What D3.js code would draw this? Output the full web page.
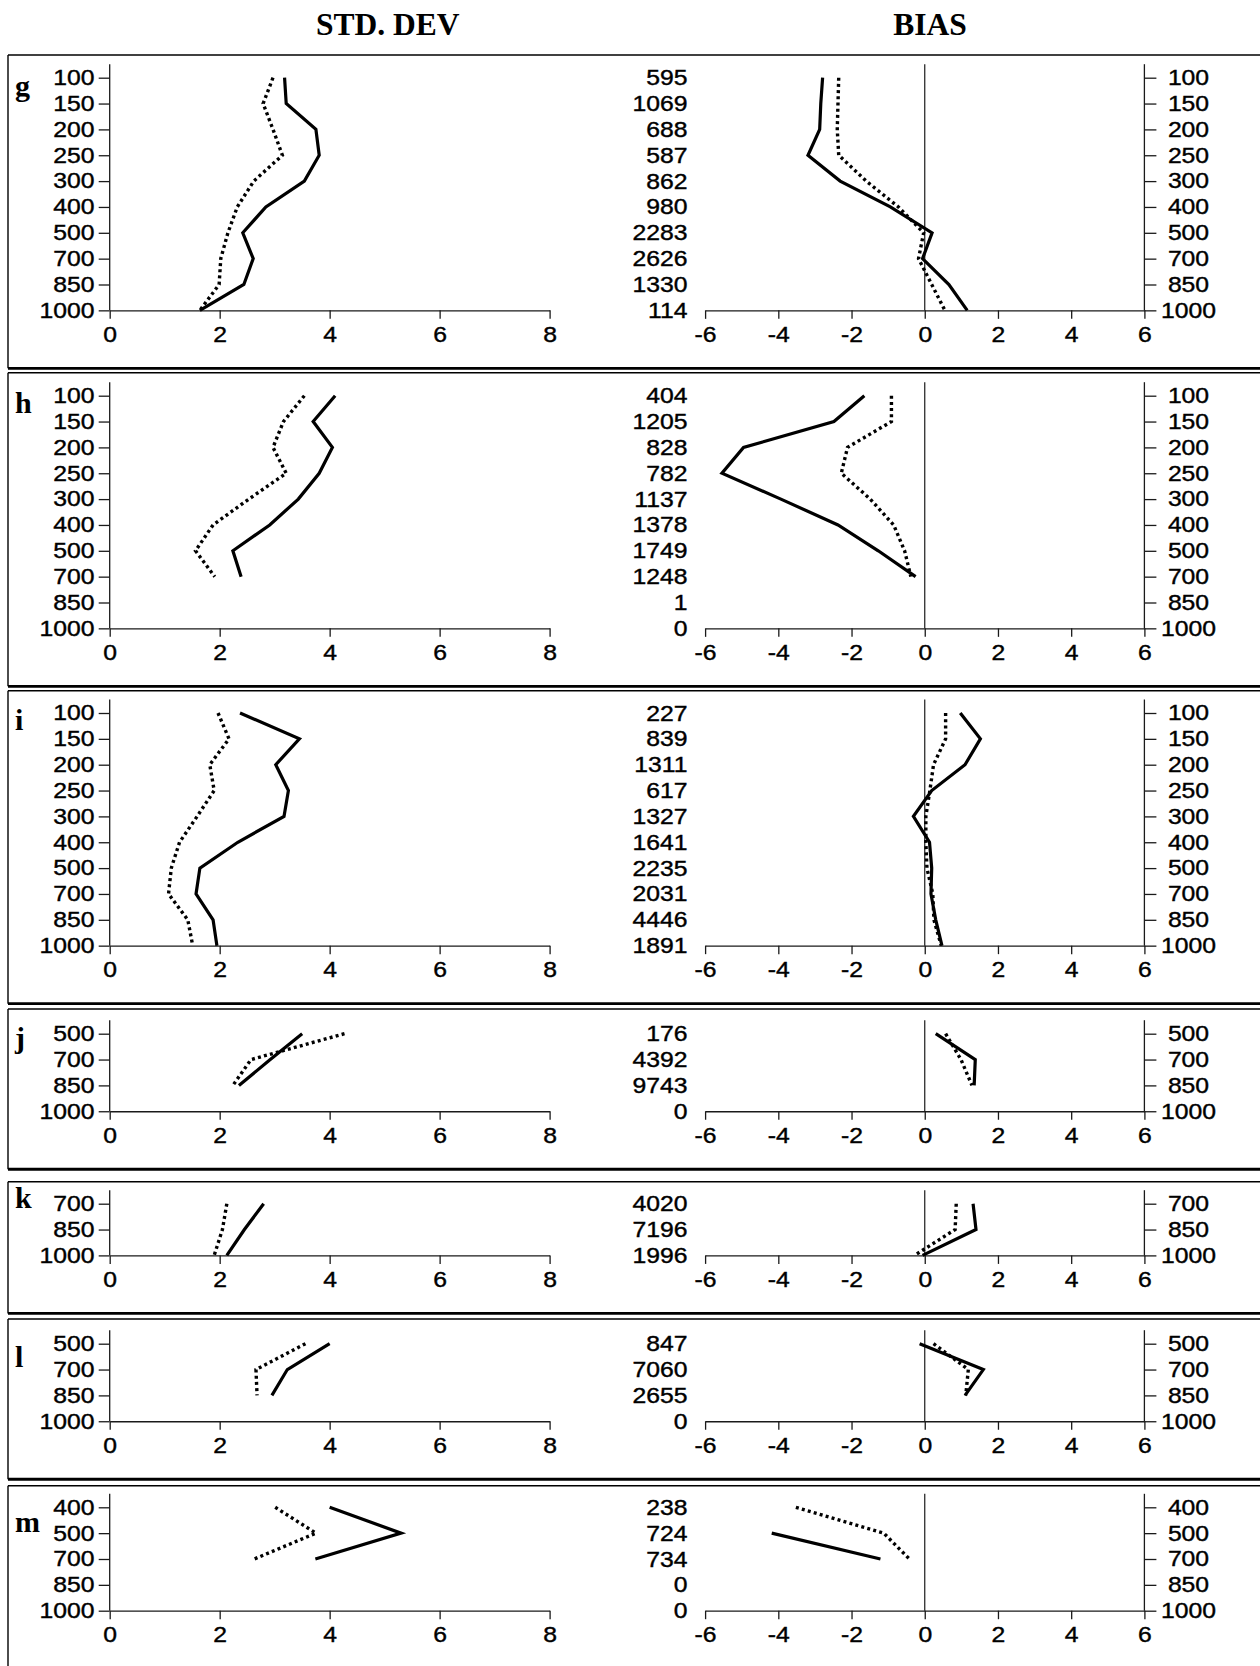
<!DOCTYPE html>
<html>
<head>
<meta charset="utf-8">
<script src="https://cdn.jsdelivr.net/npm/d3@7"></script>
<style>
  html, body { margin: 0; padding: 0; background: #fff; }
  svg { display: block; }
  .num { font-family: "Liberation Sans", Arimo, Arial, Helvetica, sans-serif; font-size: 21.5px; fill: #000; stroke: #000; stroke-width: 0.4px; }
  .serif { font-family: "Liberation Serif", "Times New Roman", Times, serif; font-weight: bold; fill: #000; }
</style>
</head>
<body>
<svg id="chart" width="1260" height="1666"></svg>
<script>
// ---- data: pressure levels (hPa), observation counts, std. dev. and bias profiles ----
const levelsFull = [100, 150, 200, 250, 300, 400, 500, 700, 850, 1000];
const levelsLow  = [500, 700, 850, 1000];
const levelsK    = [700, 850, 1000];
const levelsM    = [400, 500, 700, 850, 1000];

const panelNames = ["g", "h", "i", "j", "k", "l", "m"];

const countsG = [595, 1069, 688, 587, 862, 980, 2283, 2626, 1330, 114];
const stdSolidG   = [3.18, 3.21, 3.75, 3.81, 3.54, 2.84, 2.42, 2.61, 2.44, 1.64];
const stdDottedG  = [2.97, 2.79, 2.97, 3.14, 2.62, 2.32, 2.15, 2.02, 1.99, 1.64];
const biasSolidG  = [-2.79, -2.84, -2.87, -3.19, -2.31, -0.94, 0.20, -0.06, 0.66, 1.16];
const biasDottedG = [-2.35, -2.37, -2.39, -2.35, -1.60, -0.72, -0.03, -0.17, 0.19, 0.55];

const countsH = [404, 1205, 828, 782, 1137, 1378, 1749, 1248, 1, 0];
const stdSolidH   = [4.10, 3.70, 4.05, 3.81, 3.43, 2.91, 2.24, 2.39, null, null];
const stdDottedH  = [3.54, 3.16, 2.97, 3.21, 2.53, 1.88, 1.56, 1.91, null, null];
const biasSolidH  = [-1.65, -2.48, -4.95, -5.54, -3.93, -2.37, -1.27, -0.25, null, null];
const biasDottedH = [-0.91, -0.91, -2.11, -2.28, -1.49, -0.85, -0.55, -0.38, null, null];

const countsI = [227, 839, 1311, 617, 1327, 1641, 2235, 2031, 4446, 1891];
const stdSolidI   = [2.37, 3.45, 3.02, 3.25, 3.17, 2.33, 1.64, 1.57, 1.88, 1.95];
const stdDottedI  = [1.97, 2.17, 1.82, 1.90, 1.59, 1.27, 1.12, 1.07, 1.42, 1.51];
const biasSolidI  = [0.97, 1.52, 1.10, 0.19, -0.31, 0.13, 0.19, 0.17, 0.30, 0.47];
const biasDottedI = [0.57, 0.57, 0.24, 0.14, 0.03, 0.03, 0.06, 0.22, 0.25, 0.45];

const countsJ = [176, 4392, 9743, 0];
const stdSolidJ   = [3.50, 2.92, 2.35, null];
const stdDottedJ  = [4.27, 2.57, 2.24, null];
const biasSolidJ  = [0.30, 1.38, 1.35, null];
const biasDottedJ = [0.57, 0.99, 1.29, null];

const countsK = [4020, 7196, 1996];
const stdSolidK   = [2.80, 2.45, 2.13];
const stdDottedK  = [2.13, 2.05, 1.90];
const biasSolidK  = [1.32, 1.40, -0.06];
const biasDottedK = [0.86, 0.83, -0.28];

const countsL = [847, 7060, 2655, 0];
const stdSolidL   = [4.00, 3.23, 2.95, null];
const stdDottedL  = [3.56, 2.66, 2.68, null];
const biasSolidL  = [-0.14, 1.60, 1.10, null];
const biasDottedL = [0.24, 1.19, 1.12, null];

const countsM = [238, 724, 734, 0, 0];
const stdSolidM   = [4.00, 5.30, 3.74, null, null];
const stdDottedM  = [3.01, 3.75, 2.63, null, null];
const biasSolidM  = [null, -4.18, -1.21, null, null];
const biasDottedM = [-3.52, -1.12, -0.42, null, null];

const stdTicks  = [0, 2, 4, 6, 8];
const biasTicks = [-6, -4, -2, 0, 2, 4, 6];

const panels = [
  { levels: levelsFull, counts: countsG, std: [stdSolidG, stdDottedG], bias: [biasSolidG, biasDottedG] },
  { levels: levelsFull, counts: countsH, std: [stdSolidH, stdDottedH], bias: [biasSolidH, biasDottedH] },
  { levels: levelsFull, counts: countsI, std: [stdSolidI, stdDottedI], bias: [biasSolidI, biasDottedI] },
  { levels: levelsLow,  counts: countsJ, std: [stdSolidJ, stdDottedJ], bias: [biasSolidJ, biasDottedJ] },
  { levels: levelsK,    counts: countsK, std: [stdSolidK, stdDottedK], bias: [biasSolidK, biasDottedK] },
  { levels: levelsLow,  counts: countsL, std: [stdSolidL, stdDottedL], bias: [biasSolidL, biasDottedL] },
  { levels: levelsM,    counts: countsM, std: [stdSolidM, stdDottedM], bias: [biasSolidM, biasDottedM] }
];

// ---- layout ----
const frameTop     = [55, 372.7, 690.7, 1009, 1181.7, 1319, 1485.7];
const firstLevelDy = [22.7, 23, 22.3, 24.7, 22, 24.7, 21.6];
const letterDy     = [18, 17.6, 17, 14.5, 4.6, 23, 24.4];
const STEP = 25.85;
const SX = 1.15;    // wide setting of the tick digits
const INK = "#1a1a1a";

const xStd  = d3.scaleLinear().domain([0, 8]).range([109.7, 549.6]);
const xBias = d3.scaleLinear().domain([-6, 6]).range([705.1, 1144.4]);
const countsRight = 687.5;

const svg = d3.select("#chart");

// column headings
svg.append("text").attr("class", "serif").attr("x", 387.7).attr("y", 35)
  .attr("text-anchor", "middle").attr("font-size", 31.5).text("STD. DEV");
svg.append("text").attr("class", "serif").attr("x", 930).attr("y", 35)
  .attr("text-anchor", "middle").attr("font-size", 31.5).text("BIAS");

function label(g, x, y, txt, anchor) {
  g.append("text")
    .attr("class", "num")
    .attr("transform", `translate(${x},${y}) scale(${SX},1)`)
    .attr("dy", "0.35em")
    .attr("text-anchor", anchor)
    .text(txt);
}

function styleAxis(sel) {
  sel.attr("font-family", null).attr("font-size", null);
  sel.selectAll("path.domain").attr("stroke", INK).attr("stroke-width", 1.3);
  sel.selectAll(".tick line").attr("stroke", INK).attr("stroke-width", 1.3);
  sel.selectAll(".tick text")
    .attr("class", "num")
    .attr("fill", null)
    .attr("transform", `scale(${SX},1)`);
}

panels.forEach((p, i) => {
  const T = frameTop[i];
  const y0 = T + firstLevelDy[i];
  const y = d3.scalePoint().domain(p.levels)
    .range([y0, y0 + STEP * (p.levels.length - 1)]);
  const base = y(1000);
  const axisTop = y0 - 13.5;
  const B = base + 58;
  const g = svg.append("g").attr("class", "panel panel-" + panelNames[i]);

  // frame: thin top and left edges, heavy bottom rule
  g.append("line").attr("x1", 8).attr("x2", 1270).attr("y1", T).attr("y2", T)
    .attr("stroke", "#000").attr("stroke-width", 1.4);
  g.append("line").attr("x1", 8).attr("x2", 8).attr("y1", T).attr("y2", B)
    .attr("stroke", "#000").attr("stroke-width", 1.4);
  g.append("line").attr("x1", 8).attr("x2", 1270).attr("y1", B).attr("y2", B)
    .attr("stroke", "#000").attr("stroke-width", 2.8);

  // panel letter
  g.append("text").attr("class", "serif").attr("x", 15).attr("y", y0 + letterDy[i])
    .attr("font-size", 30).text(panelNames[i]);

  // ---- std. dev. side ----
  g.append("line").attr("x1", xStd(0)).attr("x2", xStd(0))
    .attr("y1", axisTop).attr("y2", base).attr("stroke", INK).attr("stroke-width", 1.3);
  const la = g.append("g").attr("transform", `translate(${xStd(0)},0)`)
    .call(d3.axisLeft(y).tickSize(11).tickPadding(4).tickFormat(d => String(d)));
  la.select("path.domain").remove();
  styleAxis(la);
  la.selectAll(".tick text").attr("x", -15.3 / SX);

  const sb = g.append("g").attr("transform", `translate(0,${base})`)
    .call(d3.axisBottom(xStd).tickValues(stdTicks).tickSize(8.5).tickSizeOuter(0)
      .tickPadding(7.5).tickFormat(d => String(d)));
  styleAxis(sb);

  const stdLine = d3.line()
    .defined(d => d.v != null)
    .x(d => xStd(d.v)).y(d => y(d.level));
  p.std.forEach((vals, k) => {
    const pts = p.levels.map((level, j) => ({ level, v: vals[j] }));
    g.append("path").attr("d", stdLine(pts))
      .attr("fill", "none").attr("stroke", "#000")
      .attr("stroke-width", k === 0 ? 3.2 : 3.4)
      .attr("stroke-dasharray", k === 0 ? null : "3,3.2")
      .attr("stroke-linejoin", "miter").attr("stroke-linecap", "butt");
  });

  // ---- counts ----
  p.levels.forEach((level, j) => label(g, countsRight, y(level), String(p.counts[j]), "end"));

  // ---- bias side ----
  g.append("line").attr("x1", xBias(0)).attr("x2", xBias(0))
    .attr("y1", axisTop).attr("y2", base).attr("stroke", INK).attr("stroke-width", 1.2);
  g.append("line").attr("x1", xBias(6)).attr("x2", xBias(6))
    .attr("y1", axisTop).attr("y2", base).attr("stroke", INK).attr("stroke-width", 1.3);
  const ra = g.append("g").attr("transform", `translate(${xBias(6)},0)`)
    .call(d3.axisRight(y).tickSize(12).tickPadding(4).tickFormat(d => String(d)));
  ra.select("path.domain").remove();
  styleAxis(ra);
  ra.selectAll(".tick text").attr("text-anchor", "middle").attr("x", 44.1 / SX);

  const bb = g.append("g").attr("transform", `translate(0,${base})`)
    .call(d3.axisBottom(xBias).tickValues(biasTicks).tickSize(8.5).tickSizeOuter(0)
      .tickPadding(7.5).tickFormat(d => String(d)));
  styleAxis(bb);

  const biasLine = d3.line()
    .defined(d => d.v != null)
    .x(d => xBias(d.v)).y(d => y(d.level));
  p.bias.forEach((vals, k) => {
    const pts = p.levels.map((level, j) => ({ level, v: vals[j] }));
    g.append("path").attr("d", biasLine(pts))
      .attr("fill", "none").attr("stroke", "#000")
      .attr("stroke-width", k === 0 ? 3.2 : 3.4)
      .attr("stroke-dasharray", k === 0 ? null : "3,3.2")
      .attr("stroke-linejoin", "miter").attr("stroke-linecap", "butt");
  });
});
</script>
</body>
</html>
